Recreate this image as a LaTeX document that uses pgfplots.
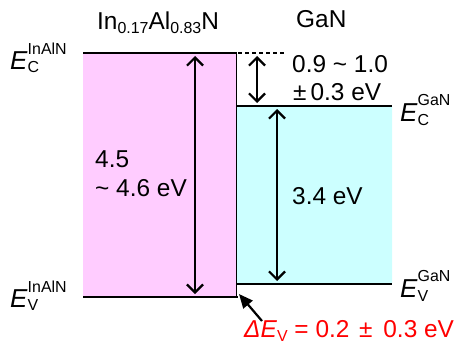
\documentclass[border=0pt]{standalone}
\usepackage{fontspec}
\setmainfont{Liberation Sans}
\usepackage{pgfplots}
\pgfplotsset{compat=1.18}
\usetikzlibrary{arrows.meta}
\definecolor{pinkc}{RGB}{255,204,255}
\definecolor{cyanc}{RGB}{204,255,255}
\newcommand{\mainsz}{\fontsize{24.5}{26}\selectfont}
\newcommand{\smsz}{\fontsize{16}{17}\selectfont}
\newcommand{\EE}[4]{{\fontsize{26}{28}\selectfont\textit{E}}\rlap{\smsz\raisebox{-#4}{#1}}{\smsz\raisebox{#3}{#2}}}
\newcommand{\wpm}{\kern3bp±\kern4bp}
\tikzset{dbl/.style={line width=2.2bp, {Straight Barb[length=8bp,width=16bp,line width=2.2bp]}-{Straight Barb[length=8bp,width=16bp,line width=2.2bp]}}}
\begin{document}
\begin{tikzpicture}
\useasboundingbox (0,0) rectangle (458bp,352bp);
\begin{axis}[width=458bp, height=352bp, scale only axis,
  xmin=0, xmax=458, ymin=0, ymax=352, y dir=reverse,
  axis lines=none, clip=false]
% band areas
\addplot[fill=pinkc, draw=none] coordinates {(83,53) (236,53) (236,296) (83,296) (83,53)};
\addplot[fill=cyanc, draw=none] coordinates {(237,106) (392,106) (392,283) (237,283) (237,106)};
% band edges
\addplot[line width=2.6bp] coordinates {(83,53) (237,53)};
\addplot[line width=2.6bp] coordinates {(83,297) (238,297)};
\addplot[line width=1.8bp] coordinates {(236.5,53) (236.5,298)};
\addplot[line width=2.6bp] coordinates {(237,106) (392,106)};
\addplot[line width=2.6bp] coordinates {(237,284) (392,284)};
\addplot[line width=1.3bp, dash pattern=on 4bp off 3bp] coordinates {(238,53) (286,53)};
% double arrows
\addplot[dbl] coordinates {(195,56) (195,294)};
\addplot[dbl] coordinates {(257,56) (257,103)};
\addplot[dbl] coordinates {(277,109) (277,281)};
% pointer arrow
\addplot[line width=2.2bp, -{Triangle[length=14bp,width=12bp]}] coordinates {(262,321) (239,294)};
% texts
\node[anchor=base west, inner sep=0] at (axis cs:97,30) {\mainsz In\raisebox{-4bp}{\smsz 0.17}Al\raisebox{-4bp}{\smsz 0.83}N};
\node[anchor=base west, inner sep=0] at (axis cs:296,28) {\mainsz GaN};
\node[anchor=base west, inner sep=0] at (axis cs:10,69) {\mainsz\EE{C}{InAlN}{15bp}{3bp}};
\node[anchor=base west, inner sep=0] at (axis cs:10,307) {\mainsz\EE{V}{InAlN}{15bp}{3bp}};
\node[anchor=base west, inner sep=0] at (axis cs:400,121) {\mainsz\EE{C}{GaN}{16bp}{4bp}};
\node[anchor=base west, inner sep=0] at (axis cs:400,297) {\mainsz\EE{V}{GaN}{16bp}{4bp}};
\node[anchor=base west, inner sep=0] at (axis cs:292,72) {\mainsz 0.9 \textasciitilde{} 1.0};
\node[anchor=base west, inner sep=0] at (axis cs:290,100) {\mainsz\wpm0.3 eV};
\node[anchor=base west, inner sep=0] at (axis cs:95,167) {\mainsz 4.5};
\node[anchor=base west, inner sep=0] at (axis cs:95,196) {\mainsz \textasciitilde{} 4.6 eV};
\node[anchor=base west, inner sep=0] at (axis cs:292,204) {\mainsz 3.4 eV};
\node[anchor=base west, inner sep=0, text=red] at (axis cs:244,337) {\mainsz\textit{ΔE}\raisebox{-4bp}{\smsz V} = 0.2 \wpm{} 0.3 eV};
\end{axis}
\end{tikzpicture}
\end{document}
